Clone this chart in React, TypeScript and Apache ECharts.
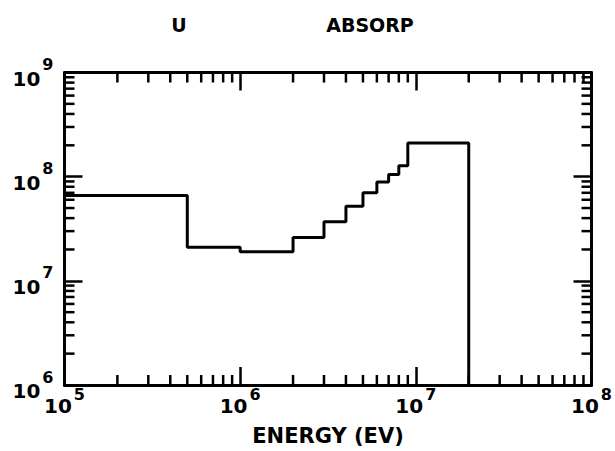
import { useEffect, useRef } from "react";
import * as echarts from "echarts";

// Step function: bin edges (eV) and values per bin
const energyEdges = [1e5, 5e5, 1e6, 2e6, 3e6, 4e6, 5e6, 6e6, 7e6, 8e6, 9e6, 2e7];
const absorpValues = [6.6e7, 2.1e7, 1.9e7, 2.6e7, 3.7e7, 5.2e7, 7.0e7, 8.9e7, 1.05e8, 1.27e8, 2.1e8];
const dropValue = 1e6;

const xRange = [1e5, 1e8];
const yRange = [1e6, 1e9];
const xDecades = [1e5, 1e6, 1e7];
const yDecades = [1e6, 1e7, 1e8];
const minorMultipliers = [2, 3, 4, 5, 6, 7, 8, 9];

const titleU = "U";
const titleMain = "ABSORP";
const xAxisName = "ENERGY (EV)";

const FONT = "DejaVu Sans";
const MAJOR_LEN = 18;
const MINOR_LEN = 10;
const TICK_W = 2.5;

const makeRich = (lineHeight: number) => ({
  b: {
    fontFamily: FONT,
    fontWeight: "bold",
    fontSize: 20,
    lineHeight,
    color: "#000",
    verticalAlign: "bottom",
  },
  s: {
    fontFamily: FONT,
    fontWeight: "bold",
    fontSize: 16,
    lineHeight: 16,
    color: "#000",
    verticalAlign: "top",
    padding: [0, 0, 0, 2],
  },
});

export default function App() {
  const ref = useRef<HTMLDivElement>(null);

  useEffect(() => {
    if (!ref.current) return;
    const chart = echarts.init(ref.current, undefined, { renderer: "svg" });

    const stepPoints: number[][] = [];
    absorpValues.forEach((v, i) => {
      stepPoints.push([energyEdges[i], v]);
      stepPoints.push([energyEdges[i + 1], v]);
    });
    stepPoints.push([energyEdges[energyEdges.length - 1], dropValue]);

    const xMinor: number[] = [];
    xDecades.forEach((d) => minorMultipliers.forEach((m) => xMinor.push(d * m)));
    const yMinor: number[] = [];
    yDecades.forEach((d) => minorMultipliers.forEach((m) => yMinor.push(d * m)));

    const fmt = (v: number) => `{b|10}{s|${Math.round(Math.log10(v))}}`;

    const axisLine = { show: true, lineStyle: { color: "#000", width: 3 } };
    const axisTick = {
      show: true,
      inside: true,
      length: MAJOR_LEN,
      lineStyle: { color: "#000", width: TICK_W },
    };

    const tickLine = (x1: number, y1: number, x2: number, y2: number) => ({
      type: "line",
      shape: { x1, y1, x2, y2 },
      style: { stroke: "#000", lineWidth: TICK_W },
    });

    chart.setOption({
      animation: false,
      backgroundColor: "#fff",
      grid: { left: 64.5, right: 22.5, top: 72.5, bottom: 65, containLabel: false },
      graphic: [
        {
          type: "text",
          x: 179,
          y: 25,
          style: {
            text: titleU,
            font: `bold 19px "${FONT}"`,
            fill: "#000",
            align: "center",
            verticalAlign: "middle",
          },
        },
        {
          type: "text",
          x: 370,
          y: 25,
          style: {
            text: titleMain,
            font: `bold 19px "${FONT}"`,
            fill: "#000",
            align: "center",
            verticalAlign: "middle",
          },
        },
      ],
      xAxis: [
        {
          type: "log",
          logBase: 10,
          min: xRange[0],
          max: xRange[1],
          splitNumber: 3,
          position: "bottom",
          axisLine,
          axisTick,
          splitLine: { show: false },
          axisLabel: { formatter: fmt, rich: makeRich(30), margin: 1 },
          name: xAxisName,
          nameLocation: "middle",
          nameGap: 40,
          nameTextStyle: {
            fontFamily: FONT,
            fontWeight: "bold",
            fontSize: 21,
            color: "#000",
          },
        },
        {
          type: "log",
          logBase: 10,
          min: xRange[0],
          max: xRange[1],
          splitNumber: 3,
          position: "top",
          axisLine,
          axisTick,
          splitLine: { show: false },
          axisLabel: { show: false },
        },
      ],
      yAxis: [
        {
          type: "log",
          logBase: 10,
          min: yRange[0],
          max: yRange[1],
          splitNumber: 3,
          position: "left",
          axisLine,
          axisTick,
          splitLine: { show: false },
          axisLabel: { formatter: fmt, rich: makeRich(32), margin: 11 },
        },
        {
          type: "log",
          logBase: 10,
          min: yRange[0],
          max: yRange[1],
          splitNumber: 3,
          position: "right",
          axisLine,
          axisTick,
          splitLine: { show: false },
          axisLabel: { show: false },
        },
      ],
      series: [
        {
          type: "line",
          xAxisIndex: 0,
          yAxisIndex: 0,
          data: stepPoints,
          showSymbol: false,
          symbol: "none",
          lineStyle: { color: "#000", width: 3 },
          silent: true,
          z: 5,
        },
        {
          type: "custom",
          coordinateSystem: "cartesian2d",
          xAxisIndex: 0,
          yAxisIndex: 0,
          clip: false,
          silent: true,
          data: xMinor.map((v) => [v, yRange[0]]),
          renderItem: (_p: any, api: any) => {
            const v = api.value(0);
            const b = api.coord([v, yRange[0]]);
            const t = api.coord([v, yRange[1]]);
            return {
              type: "group",
              children: [
                tickLine(b[0], b[1], b[0], b[1] - MINOR_LEN),
                tickLine(t[0], t[1], t[0], t[1] + MINOR_LEN),
              ],
            };
          },
        },
        {
          type: "custom",
          coordinateSystem: "cartesian2d",
          xAxisIndex: 0,
          yAxisIndex: 0,
          clip: false,
          silent: true,
          data: yMinor.map((v) => [xRange[0], v]),
          renderItem: (_p: any, api: any) => {
            const v = api.value(1);
            const l = api.coord([xRange[0], v]);
            const r = api.coord([xRange[1], v]);
            return {
              type: "group",
              children: [
                tickLine(l[0], l[1], l[0] + MINOR_LEN, l[1]),
                tickLine(r[0], r[1], r[0] - MINOR_LEN, r[1]),
              ],
            };
          },
        },
      ],
    });

    return () => chart.dispose();
  }, []);

  return (
    <div
      ref={ref}
      style={{ position: "absolute", left: 0, top: 0, width: 615, height: 451, background: "#fff" }}
    />
  );
}
